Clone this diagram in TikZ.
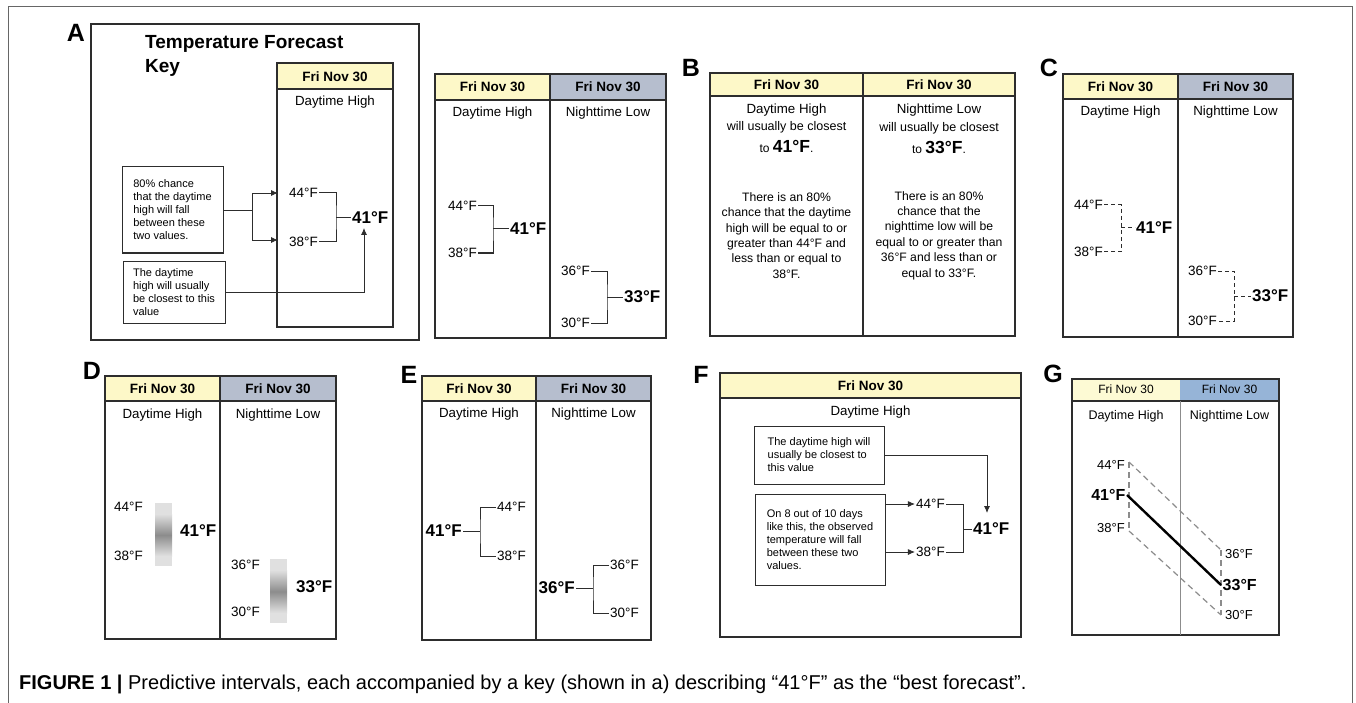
\documentclass[tikz,border=0pt]{standalone}
\usepackage{fontspec}
\setmainfont{Liberation Sans}
\usetikzlibrary{arrows.meta,calc}
\definecolor{hy}{RGB}{253,248,200}
\definecolor{hb}{RGB}{182,190,206}
\definecolor{gb}{RGB}{150,180,215}
\definecolor{gy}{RGB}{253,250,212}
\definecolor{ln}{RGB}{45,45,45}
\tikzset{
 box/.style={draw=ln,line width=1.3pt},
 brk/.style={draw=ln,line width=1pt},
 dbrk/.style={draw=ln,line width=1pt,dash pattern=on 4pt off 3pt},
 gdash/.style={draw=black!45,line width=1.2pt,dash pattern=on 6pt off 4pt},
 plet/.style={font=\bfseries\fontsize{25}{25}\selectfont,inner sep=0},
 hdr/.style={font=\bfseries\fontsize{13.5}{15}\selectfont,inner sep=0},
 sub/.style={font=\fontsize{13.3}{15}\selectfont,inner sep=0},
 val/.style={font=\fontsize{13.5}{15}\selectfont,inner sep=1pt},
 big/.style={font=\bfseries\fontsize{17}{19}\selectfont,inner sep=1pt},
 para/.style={font=\fontsize{12.2}{15.4}\selectfont,align=center,inner sep=0},
 notebox/.style={draw=ln,line width=1pt,font=\fontsize{11}{13}\selectfont,align=left,inner sep=0pt},
 arr/.style={-{Latex[length=7pt,width=6pt]},line width=0.8pt,draw=ln},
}
\begin{document}
\begin{tikzpicture}[x=1pt,y=-1pt]
\useasboundingbox (0,0) rectangle (1356,703);
\fill[white] (0,0) rectangle (1356,703);
\draw[black!60,line width=0.8pt] (8,703) -- (8,6) -- (1352,6) -- (1352,703);

% ---------------- Panel A ----------------
\node[plet] (lA) at (76,33) {A};
\draw[box] (91,24) rectangle (419,340);
\node[font=\bfseries\fontsize{19}{24}\selectfont,align=left,anchor=north west,inner sep=0] (tA) at (145,35) {Temperature Forecast\\Key};
\fill[hy] (277,63) rectangle (393,89);
\draw[box] (277,63) rectangle (393,327);
\draw[box] (277,89) -- (393,89);
\node[hdr] (hA) at (335,77) {Fri Nov 30};
\node[sub] (dA) at (335,102) {Daytime High};
\node[val,anchor=east] (a44) at (319,193) {44°F};
\node[val,anchor=east] (a38) at (319,242) {38°F};
\node[big,anchor=west] (a41) at (351,218) {41°F};
\coordinate (ab) at (336,218);
\draw[brk] (a44.east) -| (ab) |- (a38.east);
\draw[brk] (ab) -- (a41.west);
\node[notebox,minimum height=86pt,minimum width=101pt] (n1) at (172.5,210) {80\% chance\\that the daytime\\high will fall\\between these\\two values.};
\node[notebox,minimum height=62pt,minimum width=102pt] (n2) at (174,292) {The daytime\\high will usually\\be closest to this\\value};
\coordinate (n1j) at (252,210);
\coordinate (t44) at (278,193);
\coordinate (t38) at (278,240);
\draw[brk,line width=0.8pt] (n1.east) -- (n1j);
\draw[arr] (n1j) |- (t44);
\draw[arr] (n1j) |- (t38);
\coordinate (a41u) at (364,228);
\draw[arr] (n2.east) -| (a41u);

% ---------------- Panel A (second table) ----------------
\fill[hy] (435,74) rectangle (550,100);
\fill[hb] (550,74) rectangle (666,100);
\draw[box] (435,74) rectangle (666,338);
\draw[box] (435,100) -- (666,100);
\draw[box] (550,74) -- (550,338);
\node[hdr] (h2a) at (492.5,87) {Fri Nov 30};
\node[hdr] (h2b) at (608,87) {Fri Nov 30};
\node[sub] (d2a) at (492.5,113) {Daytime High};
\node[sub] (d2b) at (608,113) {Nighttime Low};
\node[val,anchor=east] (b44) at (478,206) {44°F};
\node[val,anchor=east] (b38) at (478,253) {38°F};
\node[big,anchor=west] (b41) at (509,229) {41°F};
\coordinate (bb) at (493,229);
\draw[brk] (b44.east) -| (bb) |- (b38.east);
\draw[brk] (bb) -- (b41.west);
\node[val,anchor=east] (b36) at (591,271) {36°F};
\node[val,anchor=east] (b30) at (591,323) {30°F};
\node[big,anchor=west] (b33) at (623,297) {33°F};
\coordinate (bc) at (607,297);
\draw[brk] (b36.east) -| (bc) |- (b30.east);
\draw[brk] (bc) -- (b33.west);

% ---------------- Panel B ----------------
\node[plet] (lB) at (691,68) {B};
\fill[hy] (710,73) rectangle (1015,96);
\draw[box] (710,73) rectangle (1015,336);
\draw[box] (710,96) -- (1015,96);
\draw[box] (863,73) -- (863,336);
\node[hdr] (hBa) at (786.5,85) {Fri Nov 30};
\node[hdr] (hBb) at (939,85) {Fri Nov 30};
\node[sub] (dBa) at (786.5,110) {Daytime High};
\node[sub] (dBb) at (939,110) {Nighttime Low};
\node[font=\fontsize{12.5}{14}\selectfont,inner sep=0] (wBa) at (786.5,127) {will usually be closest};
\node[font=\fontsize{12.5}{14}\selectfont,inner sep=0] (wBb) at (939,128) {will usually be closest};
\node[inner sep=0] (tBa) at (786.5,146) {\fontsize{12}{14}\selectfont to \fontsize{17.5}{19}\selectfont\bfseries 41°F\mdseries\fontsize{12}{14}\selectfont.};
\node[inner sep=0] (tBb) at (939,147) {\fontsize{12}{14}\selectfont to \fontsize{17.5}{19}\selectfont\bfseries 33°F\mdseries\fontsize{12}{14}\selectfont.};
\node[para] (pBa) at (786.5,235.5) {There is an 80\%\\chance that the daytime\\high will be equal to or\\greater than 44°F and\\less than or equal to\\38°F.};
\node[para] (pBb) at (939,235.5) {There is an 80\%\\chance that the\\nighttime low will be\\equal to or greater than\\36°F and less than or\\equal to 33°F.};

% ---------------- Panel C ----------------
\node[plet] (lC) at (1049,68) {C};
\fill[hy] (1063,74) rectangle (1178,99);
\fill[hb] (1178,74) rectangle (1293,99);
\draw[box] (1063,74) rectangle (1293,337);
\draw[box] (1063,99) -- (1293,99);
\draw[box] (1178,74) -- (1178,337);
\node[hdr] (hCa) at (1120.5,87) {Fri Nov 30};
\node[hdr] (hCb) at (1235.5,87) {Fri Nov 30};
\node[sub] (dCa) at (1120.5,112) {Daytime High};
\node[sub] (dCb) at (1235.5,112) {Nighttime Low};
\node[val,anchor=east] (c44) at (1104,205) {44°F};
\node[val,anchor=east] (c38) at (1104,252) {38°F};
\node[big,anchor=west] (c41) at (1135,228) {41°F};
\coordinate (cb) at (1121,228);
\draw[dbrk] (c44.east) -| (cb) |- (c38.east);
\draw[dbrk] (cb) -- (c41.west);
\node[val,anchor=east] (c36) at (1218,271) {36°F};
\node[val,anchor=east] (c30) at (1218,321) {30°F};
\node[big,anchor=west] (c33) at (1251,296) {33°F};
\coordinate (cc) at (1234,296);
\draw[dbrk] (c36.east) -| (cc) |- (c30.east);
\draw[dbrk] (cc) -- (c33.west);

% ---------------- Panel D ----------------
\node[plet] (lD) at (92,371) {D};
\fill[hy] (105,376) rectangle (220,401);
\fill[hb] (220,376) rectangle (336,401);
\draw[box] (105,376) rectangle (336,639);
\draw[box] (105,401) -- (336,401);
\draw[box] (220,376) -- (220,639);
\node[hdr] (hDa) at (162.5,389) {Fri Nov 30};
\node[hdr] (hDb) at (278,389) {Fri Nov 30};
\node[sub] (dDa) at (162.5,415) {Daytime High};
\node[sub] (dDb) at (278,415) {Nighttime Low};
\node[val,anchor=east] (d44) at (144,507) {44°F};
\node[val,anchor=east] (d38) at (144,556) {38°F};
\fill[black!12] (155,503) rectangle (172,566);
\shade[top color=black!12,bottom color=black!12,middle color=black!45] (155,514) rectangle (172,556);
\node[big,anchor=west] (d41) at (179,531) {41°F};
\node[val,anchor=east] (d36) at (261,565) {36°F};
\node[val,anchor=east] (d30) at (261,612) {30°F};
\fill[black!12] (270,559) rectangle (287,623);
\shade[top color=black!12,bottom color=black!12,middle color=black!45] (270,570) rectangle (287,613);
\node[big,anchor=west] (d33) at (295,587) {33°F};

% ---------------- Panel E ----------------
\node[plet] (lE) at (409,375) {E};
\fill[hy] (422,376) rectangle (536,401);
\fill[hb] (536,376) rectangle (651,401);
\draw[box] (422,376) rectangle (651,640);
\draw[box] (422,401) -- (651,401);
\draw[box] (536,376) -- (536,640);
\node[hdr] (hEa) at (479,389) {Fri Nov 30};
\node[hdr] (hEb) at (593.5,389) {Fri Nov 30};
\node[sub] (dEa) at (479,414) {Daytime High};
\node[sub] (dEb) at (593.5,414) {Nighttime Low};
\node[big,anchor=east] (e41) at (463,531) {41°F};
\node[val,anchor=west] (e44) at (496,507) {44°F};
\node[val,anchor=west] (e38) at (496,556) {38°F};
\coordinate (eb) at (480,531);
\draw[brk] (e44.west) -| (eb) |- (e38.west);
\draw[brk] (e41.east) -- (eb);
\node[big,anchor=east] (e36b) at (576,588) {36°F};
\node[val,anchor=west] (e36) at (609,565) {36°F};
\node[val,anchor=west] (e30) at (609,613) {30°F};
\coordinate (ec) at (593,588);
\draw[brk] (e36.west) -| (ec) |- (e30.west);
\draw[brk] (e36b.east) -- (ec);

% ---------------- Panel F ----------------
\node[plet] (lF) at (701,375) {F};
\fill[hy] (720,373) rectangle (1021,398);
\draw[box] (720,373) rectangle (1021,637);
\draw[box] (720,398) -- (1021,398);
\node[hdr] (hF) at (870.5,386) {Fri Nov 30};
\node[sub] (dF) at (870.5,412) {Daytime High};
\node[notebox,minimum height=58pt,minimum width=130pt] (n3) at (819,455) {The daytime high will\\usually be closest to\\this value};
\node[notebox,minimum height=91pt,minimum width=130pt] (n4) at (820,539.5) {On 8 out of 10 days\\like this, the observed\\temperature will fall\\between these two\\values.};
\node[val,anchor=east] (f44) at (946,504) {44°F};
\node[val,anchor=east] (f38) at (946,552) {38°F};
\node[big,anchor=west] (f41) at (972,529) {41°F};
\coordinate (fb) at (963,529);
\draw[brk] (f44.east) -| (fb) |- (f38.east);
\draw[brk] (fb) -- (f41.west);
\draw[arr] (n4.east |- f44.west) -- (f44.west);
\draw[arr] (n4.east |- f38.west) -- (f38.west);
\coordinate (f41u) at (987,513);
\draw[arr] (n3.east) -| (f41u);

% ---------------- Panel G ----------------
\node[plet] (lG) at (1053,374) {G};
\fill[gy] (1072,379) rectangle (1180,401);
\fill[gb] (1180,379) rectangle (1279,401);
\draw[box] (1072,379) rectangle (1279,635);
\draw[box] (1072,401) -- (1279,401);
\draw[black!45,line width=1pt] (1180,401) -- (1180,635);
\node[font=\fontsize{12}{14}\selectfont,inner sep=0] (hGa) at (1126,389) {Fri Nov 30};
\node[font=\fontsize{12}{14}\selectfont,inner sep=0] (hGb) at (1229.5,389) {Fri Nov 30};
\node[font=\fontsize{12.5}{14}\selectfont,inner sep=0] (dGa) at (1126,416) {Daytime High};
\node[font=\fontsize{12.5}{14}\selectfont,inner sep=0] (dGb) at (1229.5,416) {Nighttime Low};
\node[font=\fontsize{13}{15}\selectfont,inner sep=1pt,anchor=east] (g44) at (1126,465) {44°F};
\node[font=\bfseries\fontsize{16}{18}\selectfont,inner sep=1.5pt,anchor=east] (g41) at (1127,495) {41°F};
\node[font=\fontsize{13}{15}\selectfont,inner sep=1pt,anchor=east] (g38) at (1126,528) {38°F};
\node[font=\fontsize{13}{15}\selectfont,inner sep=1pt,anchor=west] (g36) at (1224,554) {36°F};
\node[font=\bfseries\fontsize{16}{18}\selectfont,inner sep=1.5pt,anchor=west] (g33) at (1221,585) {33°F};
\node[font=\fontsize{13}{15}\selectfont,inner sep=1pt,anchor=west] (g30) at (1224,615) {30°F};
\coordinate (gu1) at (1129,462);
\coordinate (gl1) at (1129,531);
\coordinate (gu2) at (1221,550);
\coordinate (gl2) at (1221,615);
\draw[gdash] (gu1) -- (gl1);
\draw[gdash] (gu1) -- (gu2);
\draw[gdash] (gl1) -- (gl2);
\draw[gdash] (gu2) -- (gl2);
\draw[line width=2.4pt] (g41.east) -- (g33.west);

% ---------------- Caption ----------------
\node[anchor=west,inner sep=0,font=\fontsize{20}{22}\selectfont] (cap) at (19,684) {\textbf{FIGURE 1 |} Predictive intervals, each accompanied by a key (shown in a) describing “41°F” as the “best forecast”.};
\end{tikzpicture}
\end{document}
